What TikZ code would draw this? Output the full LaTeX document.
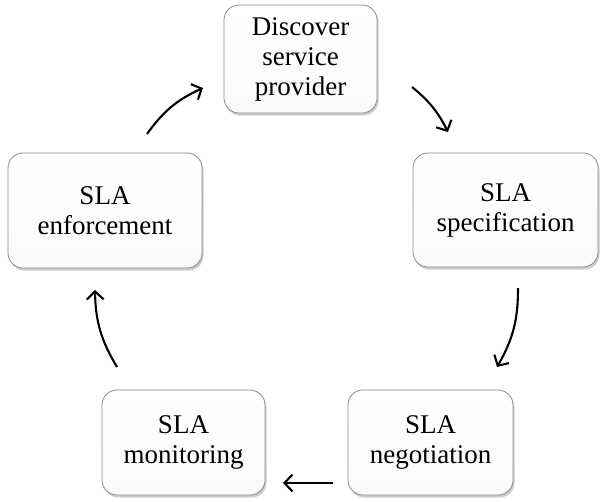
\documentclass[tikz,border=0pt]{standalone}
\usepackage{fontspec}
\setmainfont{Liberation Serif}
\usetikzlibrary{arrows.meta,shadows}
\begin{document}
\begin{tikzpicture}[x=1pt,y=-1pt,
  stepbox/.style={draw=black!45, line width=0.8pt, rounded corners=15pt,
    top color=white, bottom color=black!2, align=center,
    font=\fontsize{27}{30}\selectfont, inner sep=0pt,
    drop shadow={opacity=0.4, shadow xshift=1.5pt, shadow yshift=-2.5pt}},
  cyc/.style={line width=2.1pt, -{Straight Barb[length=8pt,width=17pt,line width=2.1pt]}}]
\useasboundingbox (0,0) rectangle (601,501);
\node[stepbox, minimum width=153pt, minimum height=108pt] (disc) at (300.5,59) {Discover\\service\\provider};
\node[stepbox, minimum width=185pt, minimum height=114pt] (spec) at (505.5,210) {SLA\\specification};
\node[stepbox, minimum width=194pt, minimum height=115pt] (enf) at (105,210.5) {SLA\\enforcement};
\node[stepbox, minimum width=163pt, minimum height=105pt] (mon) at (183.5,442.5) {SLA\\monitoring};
\node[stepbox, minimum width=165pt, minimum height=105pt] (neg) at (430.5,442.5) {SLA\\negotiation};
\coordinate (a1) at (147,134); \coordinate (a2) at (203,88);
\coordinate (b1) at (412,87); \coordinate (b2) at (448,132);
\coordinate (c1) at (518,288); \coordinate (c2) at (497,367);
\coordinate (d1) at (333,483); \coordinate (d2) at (283,483);
\coordinate (e1) at (117,367); \coordinate (e2) at (95,290);
\draw[cyc] (a1) to[bend left=15] (a2);
\draw[cyc] (b1) to[bend left=12] (b2);
\draw[cyc] (c1) to[bend left=15] (c2);
\draw[cyc] (d1) -- (d2);
\draw[cyc] (e1) to[bend left=15] (e2);
\end{tikzpicture}
\end{document}
